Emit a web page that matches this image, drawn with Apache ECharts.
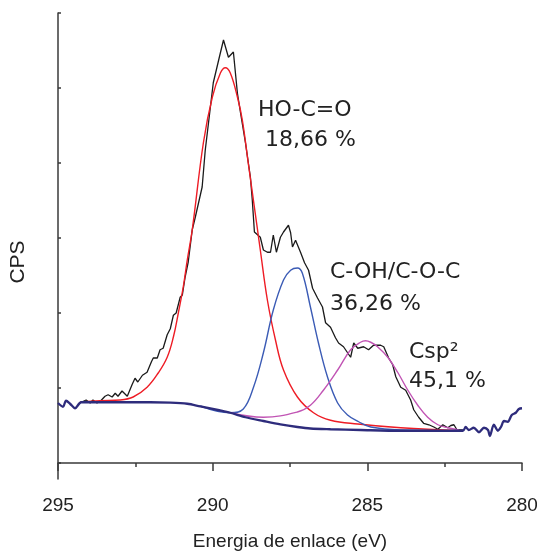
<!DOCTYPE html>
<html>
<head>
<meta charset="utf-8">
<script src="https://cdn.jsdelivr.net/npm/echarts@6/dist/echarts.min.js"></script>
<style>html,body{margin:0;padding:0;background:#fff;overflow:hidden}#c{width:537px;height:554px}</style>
</head>
<body>
<div id="c"></div>
<script>
// Binding energy (eV) / intensity (arb. CPS units) pairs
const spectrum = [[294.25,8.1],[294.09,8.4],[293.96,8.0],[293.87,8.4],[293.74,8.0],[293.64,8.2],[293.48,8.9],[293.38,9.1],[293.25,8.8],[293.15,9.3],[293.06,8.9],[292.93,9.6],[292.76,8.9],[292.60,10.5],[292.51,11.3],[292.42,10.8],[292.27,11.7],[292.12,12.1],[291.98,13.5],[291.92,14.0],[291.79,14.0],[291.70,15.1],[291.60,15.3],[291.47,17.1],[291.37,17.9],[291.27,19.7],[291.18,20.0],[291.05,22.1],[290.98,22.4],[290.89,24.8],[290.79,26.8],[290.66,31.1],[290.56,32.8],[290.34,36.8],[290.24,41.7],[289.98,50.7],[289.75,54.7],[289.65,56.4],[289.49,54.1],[289.33,54.8],[289.20,49.3],[289.10,46.7],[288.94,42.7],[288.78,38.1],[288.72,35.1],[288.65,30.8],[288.46,30.1],[288.36,28.4],[288.23,28.1],[288.13,28.1],[288.04,30.4],[287.94,28.1],[287.81,30.1],[287.71,30.8],[287.55,31.7],[287.48,30.7],[287.42,28.8],[287.32,29.7],[287.16,28.1],[287.03,26.7],[286.90,25.7],[286.77,23.3],[286.61,22.0],[286.45,20.8],[286.35,18.7],[286.19,18.1],[286.03,16.7],[285.93,16.0],[285.77,15.5],[285.54,14.1],[285.44,16.0],[285.31,15.3],[285.12,15.5],[284.96,15.1],[284.80,15.7],[284.57,15.7],[284.47,15.5],[284.31,14.0],[284.18,13.1],[284.08,11.5],[283.92,10.1],[283.76,9.7],[283.60,8.4],[283.50,7.1],[283.34,6.1],[283.18,5.3],[283.01,5.1],[282.85,4.8],[282.72,4.5],[282.56,5.1],[282.40,4.7],[282.30,5.0],[282.20,5.1],[282.10,4.4],[282.04,4.4],[281.91,4.4]];
const peakHOCO = [[294.29,8.1],[293.64,8.3],[292.99,8.4],[292.57,8.8],[292.12,10.1],[291.76,12.0],[291.47,14.1],[291.27,16.8],[291.11,20.0],[290.95,23.5],[290.82,27.1],[290.66,31.1],[290.30,42.7],[290.01,48.8],[289.75,52.0],[289.59,52.7],[289.43,52.0],[289.20,48.8],[289.04,45.7],[288.85,40.0],[288.55,31.1],[288.46,28.4],[288.23,21.7],[287.97,16.4],[287.71,12.4],[287.26,8.8],[286.74,6.7],[286.19,5.7],[285.31,5.2],[283.92,4.7],[281.98,4.3]];
const peakCOH = [[290.40,7.6],[289.43,6.7],[289.01,7.2],[288.68,10.1],[288.36,14.7],[288.04,20.4],[287.71,24.4],[287.48,25.7],[287.26,26.0],[287.10,25.3],[286.84,20.8],[286.58,16.0],[286.29,11.5],[285.96,8.0],[285.64,6.4],[285.28,5.5],[284.89,4.8],[283.92,4.4],[281.98,4.3]];
const peakCsp2 = [[289.43,6.7],[288.36,6.1],[287.26,6.8],[286.84,7.7],[286.42,9.7],[285.96,12.4],[285.54,15.1],[285.22,16.1],[285.06,16.3],[284.89,16.1],[284.67,15.5],[284.34,14.1],[284.02,12.1],[283.69,9.7],[283.37,7.7],[283.05,6.1],[282.72,5.1],[282.40,4.7],[282.04,4.4]];
const background = [[295.00,8.0],[294.84,7.5],[294.74,8.3],[294.61,7.9],[294.45,7.3],[294.25,8.1],[293.64,8.1],[292.02,8.1],[291.37,8.05],[290.82,7.9],[290.40,7.55],[289.75,7.0],[289.43,6.7],[288.94,6.1],[288.36,5.6],[287.81,5.15],[287.26,4.8],[286.84,4.6],[286.19,4.5],[285.22,4.4],[283.92,4.3],[281.91,4.3],[281.82,4.8],[281.72,4.4],[281.56,4.7],[281.39,4.1],[281.23,4.7],[281.10,4.4],[281.04,3.6],[280.91,5.1],[280.78,4.3],[280.68,4.8],[280.58,5.6],[280.46,5.5],[280.33,6.4],[280.20,6.7],[280.10,7.2],[280.00,7.3]];
const peakLabels = [["HO-C=O", " 18,66 %"], ["C-OH/C-O-C", "36,26 %"], ["Csp\u00B2", "45,1 %"]];
const xTicks = [295, 290, 285, 280];
const yTicks = [0, 10, 20, 30, 40, 50, 60];
const xTitle = "Energia de enlace (eV)";
const yTitle = "CPS";

const chart = echarts.init(document.getElementById('c'), null, {renderer: 'canvas'});
const axisColor = '#3a3a3a';
const sansFont = '"Liberation Sans",Arial,sans-serif';
const annFont = '"DejaVu Sans",sans-serif';
function ann(x, y, t) {
  return {type: 'text', x: x, y: y, silent: true,
    style: {text: t, fontSize: 22, fontFamily: annFont, fill: '#222', verticalAlign: 'middle', align: 'left'}};
}
function line(data, color, width, smooth, z) {
  return {type: 'line', data: data, showSymbol: false, symbol: 'none', smooth: smooth, z: z,
    lineStyle: {color: color, width: width}, animation: false};
}
chart.setOption({
  animation: false,
  grid: {left: 58, right: 15, top: 13, bottom: 75, containLabel: false, outerBoundsMode: 'none'},
  xAxis: {
    type: 'value', min: 280, max: 295, interval: 5, inverse: true,
    axisLine: {lineStyle: {color: axisColor, width: 1.5}},
    axisTick: {show: true, inside: false, length: 8, lineStyle: {color: axisColor, width: 1.5}},
    minorTick: {show: true, splitNumber: 2, length: 4, lineStyle: {color: axisColor, width: 1.5}},
    splitLine: {show: false},
    axisLabel: {color: '#222', fontSize: 19, fontFamily: sansFont, margin: 17,
      formatter: v => xTicks.indexOf(v) >= 0 ? String(v) : ''},
    name: xTitle, nameLocation: 'middle', nameGap: 53,
    nameTextStyle: {color: '#222', fontSize: 19, fontFamily: sansFont}
  },
  yAxis: {
    type: 'value', min: -2.1333, max: 60,
    axisLine: {show: true, lineStyle: {color: axisColor, width: 1.5}},
    axisTick: {show: true, inside: true, length: 3, customValues: yTicks, lineStyle: {color: axisColor, width: 1.5}},
    axisLabel: {show: false},
    splitLine: {show: false}
  },
  series: [
    line(spectrum, '#1a1a1a', 1.3, false, 2),
    line(peakHOCO, '#ee1c25', 1.4, 0.4, 3),
    line(peakCOH, '#3b5bb5', 1.4, 0.4, 3),
    line(peakCsp2, '#c154b4', 1.4, 0.4, 3),
    line(background, '#2e2c7c', 2.3, 0.3, 4)
  ],
  graphic: [
    ann(258, 110, peakLabels[0][0]), ann(258, 140.5, peakLabels[0][1]),
    ann(330, 272, peakLabels[1][0]), ann(330, 304.5, peakLabels[1][1]),
    ann(409, 352.5, peakLabels[2][0]), ann(409, 381.5, peakLabels[2][1]),
    {type: 'text', x: 18, y: 262, rotation: Math.PI / 2, silent: true,
      style: {text: yTitle, fontSize: 21, fontFamily: sansFont, fill: '#222', align: 'center', verticalAlign: 'middle'}}
  ]
});
</script>
</body>
</html>
